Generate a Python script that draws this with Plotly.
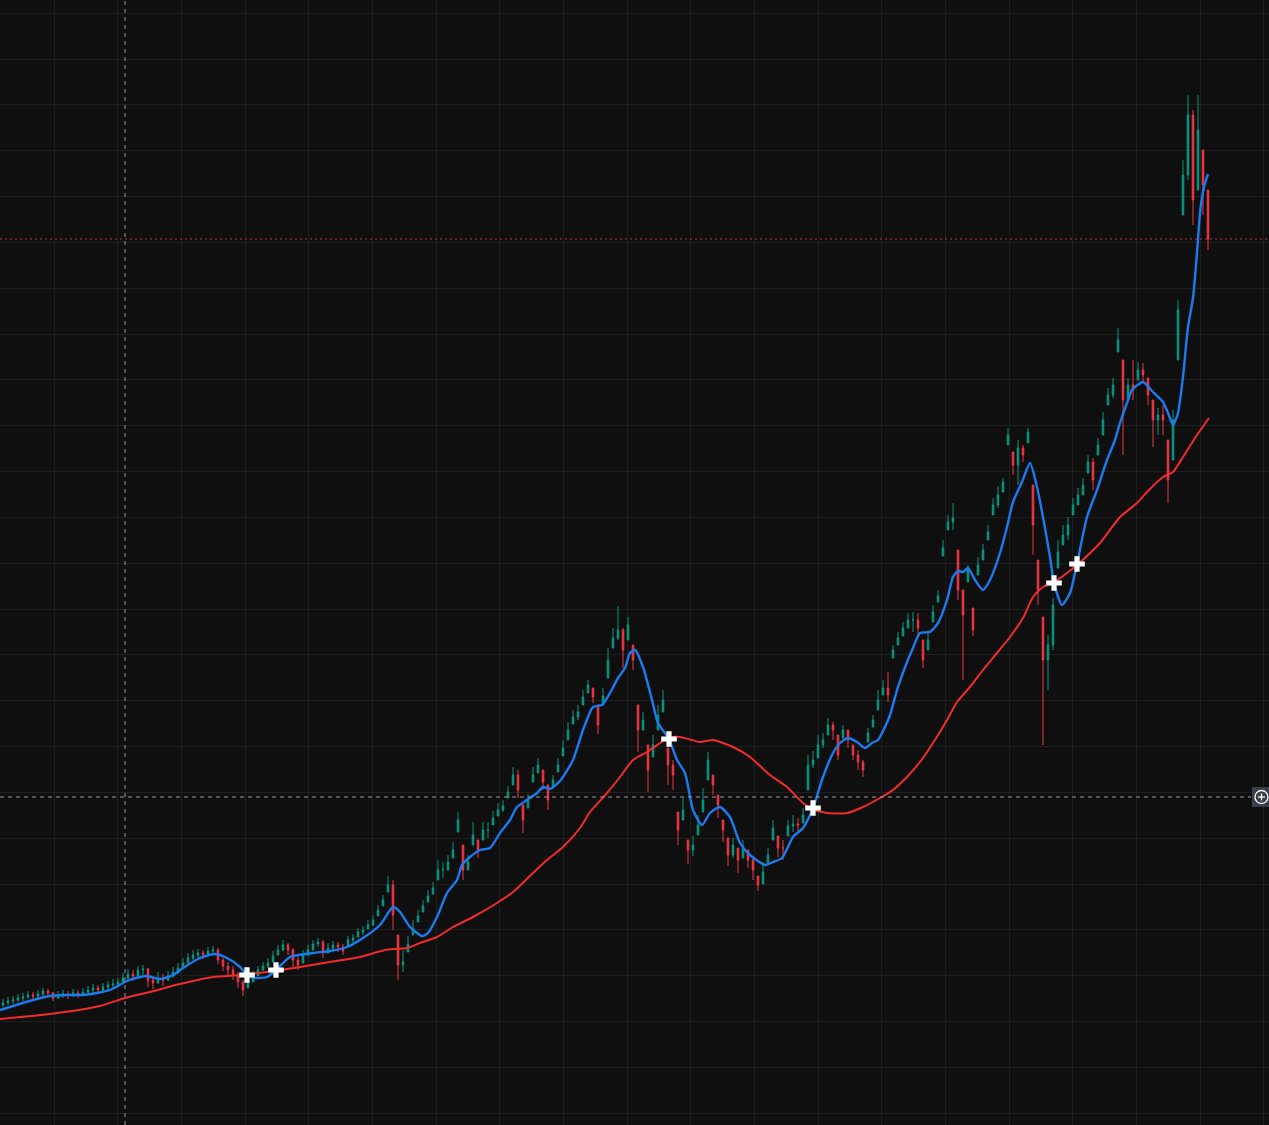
import plotly.graph_objects as go

# Candle data, one candle per bar (price units are arbitrary, chart has no axis labels)
close = [
    122, 124, 125, 127, 128, 130, 129, 131, 134, 132,
    127, 130, 131, 130, 132, 131, 133, 135, 137, 135,
    138, 140, 141, 143, 147, 151, 149, 155, 156, 145,
    142, 147, 145, 149, 153, 157, 162, 167, 170, 172,
    171, 174, 175, 165, 159, 155, 150, 143, 135, 143,
    149, 155, 159, 162, 169, 175, 180, 175, 165, 160,
    170, 175, 181, 183, 172, 177, 180, 178, 174, 185,
    187, 193, 195, 200, 205, 215, 225, 240, 210, 160,
    163, 181, 197, 209, 219, 229, 237, 255, 255, 263,
    275, 305, 255, 263, 290, 275, 295, 295, 307, 315,
    319, 333, 350, 335, 305, 325, 350, 360, 343, 325,
    345, 360, 377, 395, 408, 413, 428, 440, 428, 400,
    429, 465, 487, 495, 475, 500, 465, 395, 405, 355,
    380, 410, 425, 360, 350, 295, 315, 275, 280, 300,
    325, 365, 340, 320, 295, 270, 280, 265, 277, 265,
    255, 240, 253, 270, 297, 277, 277, 299, 301, 300,
    310, 360, 365, 380, 385, 400, 395, 370, 395, 385,
    370, 363, 355, 392, 405, 425, 437, 430, 475, 487,
    497, 505, 505, 497, 465, 485, 513, 529, 577, 603,
    607, 535, 510, 555, 495, 560, 575, 593, 620, 630,
    643, 690, 660, 677, 670, 693, 600, 535, 465, 480,
    520, 573, 590, 600, 620, 630, 640, 663, 645, 680,
    705, 730, 740, 785, 725, 740, 735, 755, 750, 730,
    705, 710, 705, 645, 705, 815, 950, 1010, 925, 995, 940, 886,
]
high = [
    126, 128, 129, 131, 132, 134, 133, 135, 137, 136,
    133, 134, 135, 134, 136, 135, 137, 139, 141, 140,
    142, 144, 146, 147, 152, 156, 155, 159, 160, 157,
    149, 153, 151, 154, 158, 162, 167, 172, 175, 176,
    175, 178, 179, 177, 167, 163, 159, 153, 145, 149,
    154, 159, 163, 167, 174, 180, 185, 182, 177, 170,
    175, 180, 185, 187, 185, 182, 184, 183, 181, 189,
    191, 197, 199, 205, 210, 220, 230, 249, 245, 190,
    175, 189, 205, 215, 225, 235, 243, 265, 263, 270,
    283, 313, 280, 270, 303, 285, 303, 303, 314, 322,
    325, 339, 358, 355, 320, 331, 358, 367, 355, 340,
    350, 367, 385, 403, 415, 420, 435, 445, 437, 420,
    437, 477, 497, 519, 497, 508, 480, 420, 413, 380,
    390, 420, 435, 377, 365, 313, 327, 285, 289, 310,
    337, 373, 350, 330, 305, 287, 287, 277, 285, 275,
    267, 249, 263, 277, 305, 289, 285, 305, 310, 307,
    317, 370, 374, 390, 392, 407, 403, 390, 400, 395,
    380, 375, 365, 397, 410, 435, 445, 453, 480, 493,
    503, 512, 513, 512, 485, 495, 520, 535, 585, 610,
    622, 575, 535, 560, 517, 568, 581, 600, 627, 639,
    647, 697, 673, 685, 680, 697, 640, 565, 508, 490,
    527, 585, 600, 608, 627, 637, 647, 670, 667, 687,
    713, 737, 747, 797, 765, 747, 765, 763, 762, 747,
    725, 717, 720, 685, 715, 825, 965, 1030, 1015, 1030, 975, 935,
]
low = [
    118, 120, 121, 123, 124, 126, 125, 127, 129, 128,
    124, 126, 127, 126, 128, 127, 129, 130, 132, 131,
    133, 135, 137, 138, 141, 145, 144, 148, 150, 138,
    136, 141, 139, 144, 147, 151, 157, 161, 165, 167,
    166, 169, 170, 161, 154, 150, 145, 137, 129, 137,
    143, 149, 154, 157, 163, 170, 174, 170, 158, 155,
    162, 169, 175, 178, 167, 172, 175, 173, 170, 179,
    182, 188, 190, 196, 199, 209, 219, 233, 195, 145,
    153, 173, 190, 203, 213, 223, 231, 245, 247, 255,
    267, 293, 245, 255, 280, 267, 285, 287, 300, 309,
    313, 327, 340, 327, 292, 317, 343, 352, 335, 315,
    339, 353, 369, 385, 401, 405, 420, 432, 422, 391,
    420, 447, 477, 485, 457, 485, 455, 373, 395, 333,
    368, 395, 413, 340, 335, 280, 305, 261, 269, 290,
    313, 345, 330, 307, 283, 259, 267, 252, 267, 257,
    245, 234, 241, 261, 285, 268, 265, 289, 293, 294,
    302, 335, 357, 367, 377, 390, 385, 365, 387, 377,
    365, 355, 348, 383, 398, 415, 430, 423, 467, 480,
    489, 497, 493, 489, 457, 475, 503, 523, 569, 595,
    595, 525, 445, 543, 489, 550, 565, 585, 610, 617,
    633, 680, 650, 640, 663, 682, 570, 520, 380, 435,
    475, 557, 580, 585, 610, 620, 630, 652, 635, 670,
    690, 720, 727, 773, 670, 725, 725, 745, 743, 720,
    678, 690, 690, 622, 665, 765, 910, 945, 900, 935, 910, 875,
]
first_open = 120

# Fast (blue) and slow (red) moving averages
fast_bar = [
    -0.6, 6.0, 9.4, 12.8, 16.0, 18.8, 21.4, 24.8, 27.4, 28.8,
    31.4, 34.0, 36.0, 39.4, 42.4, 44.8, 47.4, 48.8, 50.4, 52.8,
    54.6, 57.4, 62.0, 65.4, 68.8, 72.0, 75.4, 78.0, 79.4, 81.4,
    83.8, 85.0, 86.8, 88.8, 90.8, 91.8, 93.4, 95.4, 97.4, 99.4,
    101.4, 102.8, 104.8, 106.8, 108.0, 109.4, 111.4, 114.0, 116.0, 118.0,
    119.8, 121.4, 123.0, 124.4, 125.4, 126.4, 128.0, 129.8, 131.0, 133.2,
    134.8, 136.4, 138.0, 139.8, 141.4, 143.4, 145.4, 147.4, 149.4, 152.4,
    154.0, 155.8, 158.0, 160.0, 162.0, 164.0, 166.0, 167.4, 169.0, 170.8,
    172.4, 173.8, 175.0, 176.4, 177.4, 179.0, 180.8, 182.0, 183.4, 185.4,
    187.0, 188.8, 190.0, 191.0, 192.0, 193.0, 194.4, 196.0, 197.4, 199.4,
    200.8, 202.0, 203.8, 205.4, 206.8, 208.0, 209.4, 210.2, 211.8, 213.4,
    214.8, 216.8, 218.8, 220.8, 222.4, 223.4, 224.8, 225.8, 228.0, 230.0,
    232.0, 233.0, 234.0, 235.0, 236.0, 237.0, 238.0, 238.8, 239.4, 240.2, 241.0,
]
fast_ma = [
    115, 125, 129, 130, 130, 132, 135, 144, 148, 149,
    146, 150, 157, 167, 171, 167, 158, 150, 147, 148,
    155, 168, 172, 174, 178, 187, 200, 218, 213, 198,
    189, 192, 208, 232, 245, 260, 268, 275, 277, 292,
    305, 318, 325, 332, 338, 336, 344, 365, 395, 418,
    420, 432, 447, 457, 472, 475, 458, 425, 402, 386,
    365, 352, 315, 300, 312, 318, 308, 282, 270, 260,
    263, 267, 288, 297, 317, 348, 372, 382, 387, 383,
    377, 382, 385, 398, 410, 438, 463, 477, 492, 493,
    502, 525, 548, 554, 553, 557, 545, 535, 545, 572,
    598, 623, 643, 662, 638, 608, 568, 542, 520, 532,
    561, 608, 635, 665, 685, 702, 722, 735, 743, 733,
    723, 712, 700, 712, 748, 798, 827, 872, 912, 938, 951,
]
slow_bar = [
    -0.6, 9.4, 19.4, 24.4, 29.4, 35.4, 42.0, 47.4, 52.8, 59.4,
    65.4, 71.4, 76.4, 80.8, 83.4, 86.8, 90.0, 94.0, 98.8, 102.0,
    106.0, 108.8, 112.0, 115.4, 117.4, 120.8, 123.4, 126.0, 128.8, 131.4,
    133.0, 135.4, 139.4, 142.0, 146.0, 149.4, 153.4, 156.8, 160.0, 161.8,
    164.8, 168.8, 172.0, 175.4, 178.0, 180.8, 183.4, 186.0, 188.8, 190.8,
    193.4, 196.0, 198.8, 201.4, 204.0, 206.0, 208.0, 210.0, 212.8, 214.8,
    219.4, 223.4, 226.8, 228.8, 232.0, 234.0, 236.0, 238.8, 241.2,
]
slow_ma = [
    106, 111, 119, 127, 133, 141, 148, 150, 153, 158,
    163, 168, 175, 177, 182, 188, 198, 208, 222, 233,
    252, 265, 278, 297, 313, 332, 348, 365, 373, 382,
    387, 388, 383, 385, 378, 368, 350, 338, 322, 316,
    312, 312, 318, 327, 335, 348, 363, 382, 405, 423,
    438, 455, 472, 488, 507, 528, 538, 542, 552, 560,
    582, 608, 622, 633, 648, 653, 668, 690, 707,
]

# Where the two averages cross
cross_bar = [48.8, 54.6, 133.2, 162.0, 210.2, 214.8]
cross_price = [150, 155, 386, 317, 542, 561]

# Crosshair position (mouse hover state in the screenshot)
crosshair_bar = 24.4
crosshair_price = 328

bars = list(range(len(close)))
opens, highs, lows = [], [], []
prev = first_open
for c, h, l in zip(close, high, low):
    h = max(h, c)
    l = min(l, c)
    opens.append(min(max(prev, l), h))
    highs.append(h)
    lows.append(l)
    prev = c

fig = go.Figure()

fig.add_trace(go.Candlestick(
    x=bars, open=opens, high=highs, low=lows, close=close,
    increasing=dict(line=dict(color="#089981", width=1), fillcolor="#089981"),
    decreasing=dict(line=dict(color="#f23645", width=1), fillcolor="#f23645"),
    whiskerwidth=0, hoverinfo="skip", showlegend=False,
))

fig.add_trace(go.Scatter(
    x=slow_bar, y=slow_ma, mode="lines",
    line=dict(color="#f22c2c", width=2, shape="spline", smoothing=0.6),
    hoverinfo="skip", showlegend=False,
))
fig.add_trace(go.Scatter(
    x=fast_bar, y=fast_ma, mode="lines",
    line=dict(color="#1a7cf2", width=2.4, shape="spline", smoothing=0.6),
    hoverinfo="skip", showlegend=False,
))
fig.add_trace(go.Scatter(
    x=cross_bar, y=cross_price, mode="markers",
    marker=dict(symbol="cross", size=13, color="white", line=dict(width=0)),
    hoverinfo="skip", showlegend=False,
))

# last price line
fig.add_shape(type="line", xref="paper", x0=0, x1=1, y0=close[-1], y1=close[-1],
              line=dict(color="#c8303e", width=1, dash="2px,3px"))

# crosshair
fig.add_shape(type="line", xref="x", yref="paper", x0=crosshair_bar, x1=crosshair_bar, y0=0, y1=1,
              line=dict(color="#9a9a9a", width=1, dash="4px,4px"))
fig.add_shape(type="line", xref="paper", x0=0, x1=0.986, y0=crosshair_price, y1=crosshair_price,
              line=dict(color="#9a9a9a", width=1, dash="4px,4px"))

# small "add" button at the right end of the horizontal crosshair
btn = dict(xref="paper", xsizemode="pixel", xanchor=1, yref="y", ysizemode="pixel", yanchor=crosshair_price)
fig.add_shape(type="rect", x0=-17, x1=0, y0=-10, y1=10, fillcolor="#3a3e48",
              line=dict(width=0), **btn)
fig.add_shape(type="circle", x0=-14, x1=-1, y0=-6.5, y1=6.5,
              line=dict(color="white", width=1.3), **btn)
fig.add_shape(type="line", x0=-11, x1=-4, y0=0, y1=0, line=dict(color="white", width=1.3), **btn)
fig.add_shape(type="line", x0=-7.5, x1=-7.5, y0=-3.5, y1=3.5, line=dict(color="white", width=1.3), **btn)

fig.update_layout(
    width=1269, height=1125,
    margin=dict(l=0, r=0, t=0, b=0),
    paper_bgcolor="#0f0f0f", plot_bgcolor="#0f0f0f",
    boxgap=0.55,
    xaxis=dict(range=[-0.6, 253.2], showgrid=True, gridcolor="#1e1e1e", gridwidth=1,
               tick0=10.26, dtick=12.733, showticklabels=False, zeroline=False,
               rangeslider=dict(visible=False), fixedrange=True),
    yaxis=dict(range=[0, 1125], showgrid=True, gridcolor="#1e1e1e", gridwidth=1,
               tick0=11.7, dtick=45.833, showticklabels=False, zeroline=False, fixedrange=True),
    showlegend=False,
)

fig.write_html("out.html", config={"displayModeBar": False},
               post_script="document.body.style.margin='0';document.body.style.overflow='hidden';")
